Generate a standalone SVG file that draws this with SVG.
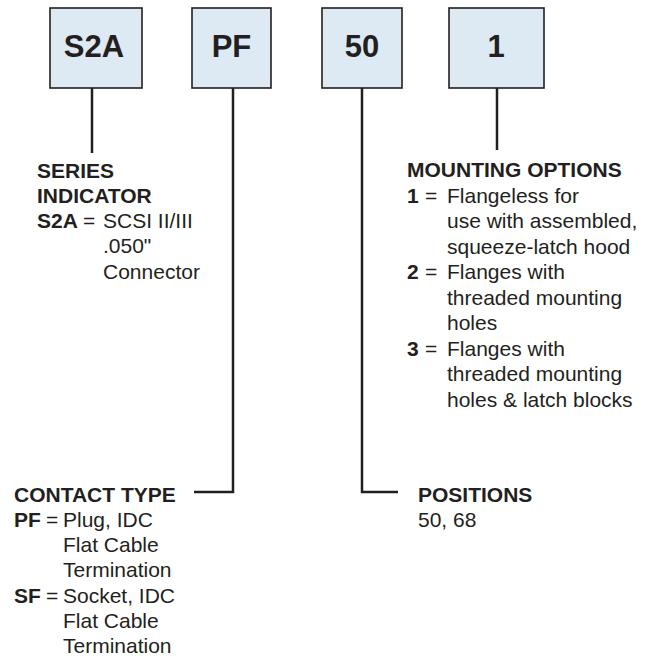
<svg xmlns="http://www.w3.org/2000/svg" width="654" height="658" viewBox="0 0 654 658">
<style>
text{font-family:"Liberation Sans",Arial,Helvetica,sans-serif;fill:#231f20}
.box{fill:#dde9f3;stroke:#231f20;stroke-width:1.6}
.bt{font-size:31px;font-weight:bold;text-anchor:middle}
.t{font-size:21px}
.b{font-weight:bold}
.ln{fill:none;stroke:#231f20;stroke-width:2.5}
</style>
<rect width="654" height="658" fill="#ffffff"/>
<g id="connectors">
<path class="ln" d="M92,88 V153"/>
<path class="ln" d="M233,88 V492 H194"/>
<path class="ln" d="M362,88 V492 H398"/>
<path class="ln" d="M497,88 V150"/>
</g>
<g id="node-s2a"><rect class="box" x="50" y="8" width="92" height="80"/><text class="bt" x="94" y="57">S2A</text></g>
<g id="node-pf"><rect class="box" x="192" y="8" width="79" height="80"/><text class="bt" x="231.5" y="57">PF</text></g>
<g id="node-50"><rect class="box" x="322" y="8" width="80" height="80"/><text class="bt" x="362" y="57">50</text></g>
<g id="node-1"><rect class="box" x="449" y="8" width="95" height="80"/><text class="bt" x="496" y="57">1</text></g>
<g id="series-indicator" class="t">
<text class="t b" x="37" y="178">SERIES</text>
<text class="t b" x="37" y="203">INDICATOR</text>
<text class="t b" x="37" y="228">S2A</text><text class="t" x="83" y="228">=</text><text class="t" x="103" y="228">SCSI II/III</text>
<text class="t" x="103" y="253">.050"</text>
<text class="t" x="103" y="279">Connector</text>
</g>
<g id="mounting-options">
<text class="t b" x="407" y="177">MOUNTING OPTIONS</text>
<text class="t b" x="407" y="203">1</text><text class="t" x="425" y="203">=</text><text class="t" x="447" y="203">Flangeless for</text>
<text class="t" x="447" y="228">use with assembled,</text>
<text class="t" x="447" y="254">squeeze-latch hood</text>
<text class="t b" x="407" y="279">2</text><text class="t" x="425" y="279">=</text><text class="t" x="447" y="279">Flanges with</text>
<text class="t" x="447" y="305">threaded mounting</text>
<text class="t" x="447" y="330">holes</text>
<text class="t b" x="407" y="356">3</text><text class="t" x="425" y="356">=</text><text class="t" x="447" y="356">Flanges with</text>
<text class="t" x="447" y="381">threaded mounting</text>
<text class="t" x="447" y="407">holes &amp; latch blocks</text>
</g>
<g id="contact-type">
<text class="t b" x="14" y="502">CONTACT TYPE</text>
<text class="t b" x="14" y="527">PF</text><text class="t" x="46" y="527">=</text><text class="t" x="63" y="527">Plug, IDC</text>
<text class="t" x="63" y="552">Flat Cable</text>
<text class="t" x="63" y="577">Termination</text>
<text class="t b" x="14" y="603">SF</text><text class="t" x="46" y="603">=</text><text class="t" x="63" y="603">Socket, IDC</text>
<text class="t" x="63" y="628">Flat Cable</text>
<text class="t" x="63" y="653">Termination</text>
</g>
<g id="positions">
<text class="t b" x="418" y="502">POSITIONS</text>
<text class="t" x="418" y="527">50, 68</text>
</g>
</svg>
